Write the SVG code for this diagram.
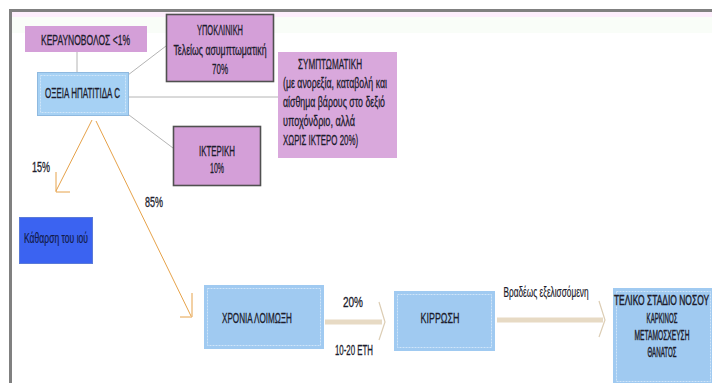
<svg xmlns="http://www.w3.org/2000/svg" width="712" height="383" viewBox="0 0 712 383">
<defs>
<style>
text{font-family:"Liberation Sans Narrow","Liberation Sans",Arial,sans-serif;fill:#1c1c2c;stroke:#1c1c2c;stroke-width:0.3;font-size:14px}
.c{text-anchor:middle}
.orchid{fill:#d49fd8}
.dk{stroke:#505050;stroke-width:1.6}
.lb{fill:#a6d1f4;stroke:#8fb9df;stroke-width:1}
.inner{fill:none;stroke:#cfe5f9;stroke-width:1;stroke-dasharray:2 1}
.gl{stroke:#b4b4b4;stroke-width:1;fill:none}
.or{stroke:#e6a24a;stroke-width:1;fill:none}
.bg{stroke:#e7dac4;stroke-width:5;fill:none}
.bh{stroke:#dccdb4;stroke-width:1.2;fill:none}
.sq text{stroke-width:0.45}
</style>
</defs>
<rect width="712" height="383" fill="#ffffff"/>
<rect x="12" y="12" width="700" height="5" fill="#fdeefc"/>
<rect x="12" y="17" width="700" height="16" fill="#f9fdf8"/>
<rect x="9" y="9" width="703" height="3" fill="#808080"/>
<rect x="9" y="9" width="3" height="374" fill="#808080"/>

<g id="connectors">
<line class="gl" x1="77" y1="52" x2="77" y2="72"/>
<line class="gl" x1="128" y1="75" x2="166" y2="46"/>
<line class="gl" x1="128" y1="97" x2="278" y2="97"/>
<line class="gl" x1="129" y1="115" x2="173" y2="148"/>
<line class="or" x1="92" y1="120" x2="56" y2="191"/>
<polyline class="or" points="56,172 56,192 70,192"/>
<line class="or" x1="96" y1="121" x2="191" y2="316"/>
<polyline class="or" points="192,293 192,317 180,317"/>
<line class="bg" x1="325" y1="322" x2="382" y2="322"/>
<polyline class="bh" points="379,302 385,322 379,340"/>
<line class="bg" x1="497" y1="320" x2="603" y2="320"/>
<polyline class="bh" points="599,301 605,320 599,337"/>
<text x="353" y="307" class="c" font-size="15" textLength="20" lengthAdjust="spacingAndGlyphs">20%</text>
<text x="354" y="355" class="c" font-size="13" textLength="38" lengthAdjust="spacingAndGlyphs">10-20 ΕΤΗ</text>
<g transform="translate(546,297) scale(0.65,1)"><text x="0" y="0" class="c" font-size="13" textLength="131" lengthAdjust="spacingAndGlyphs" style="stroke-width:0.2">Βραδέως εξελισσόμενη</text></g>
<text x="41" y="172" class="c" font-size="15" textLength="18" lengthAdjust="spacingAndGlyphs">15%</text>
<text x="154" y="207" class="c" font-size="15" textLength="18" lengthAdjust="spacingAndGlyphs">85%</text>
</g>

<g id="keravnovolos">
<rect x="25" y="26" width="122" height="26" class="orchid"/>
<text x="85.5" y="45" class="c" textLength="89" lengthAdjust="spacingAndGlyphs">ΚΕΡΑΥΝΟΒΟΛΟΣ  &lt;1%</text>
</g>

<g id="oxeia">
<rect x="37.5" y="72.5" width="91" height="43" class="lb"/>
<rect x="40.5" y="75.5" width="85" height="37" class="inner"/>
<text x="82.5" y="98" class="c" textLength="75" lengthAdjust="spacingAndGlyphs">ΟΞΕΙΑ ΗΠΑΤΙΤΙΔΑ C</text>
</g>

<g id="ypoklinikh">
<rect x="166.5" y="14.5" width="107" height="67" class="orchid dk"/>
<text x="220" y="35" class="c" textLength="46" lengthAdjust="spacingAndGlyphs">ΥΠΟΚΛΙΝΙΚΗ</text>
<text x="220" y="55" class="c" textLength="93" lengthAdjust="spacingAndGlyphs">Τελείως ασυμπτωματική</text>
<text x="220" y="74" class="c" textLength="16" lengthAdjust="spacingAndGlyphs">70%</text>
</g>

<g id="symptomatikh">
<rect x="278" y="52" width="119" height="106" fill="#d9a8dc"/>
<text x="330" y="69" class="c" textLength="64" lengthAdjust="spacingAndGlyphs">ΣΥΜΠΤΩΜΑΤΙΚΗ</text>
<text x="283" y="88" textLength="104" lengthAdjust="spacingAndGlyphs">(με ανορεξία, καταβολή και</text>
<text x="283" y="107" textLength="102" lengthAdjust="spacingAndGlyphs">αίσθημα βάρους στο δεξιό</text>
<text x="283" y="126" textLength="72" lengthAdjust="spacingAndGlyphs">υποχόνδριο, αλλά</text>
<text x="283" y="145" textLength="75" lengthAdjust="spacingAndGlyphs">ΧΩΡΙΣ ΙΚΤΕΡΟ 20%)</text>
</g>

<g id="ikterikh">
<rect x="173.5" y="126.5" width="87" height="59" class="orchid dk"/>
<text x="217" y="156" class="c" textLength="36" lengthAdjust="spacingAndGlyphs">ΙΚΤΕΡΙΚΗ</text>
<text x="217" y="173" class="c" textLength="14" lengthAdjust="spacingAndGlyphs">10%</text>
</g>

<g id="katharsh">
<rect x="19.5" y="217.5" width="73" height="46" fill="#3b63f1" stroke="#5a7ad8" stroke-width="1"/>
<text x="56" y="243" class="c" font-size="12" textLength="64" lengthAdjust="spacingAndGlyphs" style="fill:#121a48;stroke:#121a48;stroke-width:0.2">Κάθαρση του ιού</text>
</g>

<g id="chronia">
<rect x="204" y="285" width="120" height="64" fill="#a0caf1"/>
<rect x="207.5" y="288.5" width="113" height="57" class="inner"/>
<text x="257" y="323" class="c" textLength="70" lengthAdjust="spacingAndGlyphs">ΧΡΟΝΙΑ ΛΟΙΜΩΞΗ</text>
</g>

<g id="kirrwsh">
<rect x="394" y="291" width="101" height="60" fill="#a0caf1"/>
<rect x="397.5" y="294.5" width="94" height="53" class="inner"/>
<text x="440" y="323" class="c" textLength="39" lengthAdjust="spacingAndGlyphs">ΚΙΡΡΩΣΗ</text>
</g>

<g id="teliko">
<rect x="613" y="288" width="99" height="95" fill="#a0caf1"/>
<rect x="616.5" y="291.5" width="94" height="90" class="inner"/>
<g class="sq" transform="translate(661.5,305) scale(0.55,1)"><text x="0" y="0" class="c" textLength="173" lengthAdjust="spacingAndGlyphs">ΤΕΛΙΚΟ ΣΤΑΔΙΟ ΝΟΣΟΥ</text></g>
<g class="sq" transform="translate(662,323) scale(0.55,1)"><text x="0" y="0" class="c" textLength="56" lengthAdjust="spacingAndGlyphs">ΚΑΡΚΙΝΟΣ</text></g>
<g class="sq" transform="translate(662,340) scale(0.55,1)"><text x="0" y="0" class="c" textLength="100" lengthAdjust="spacingAndGlyphs">ΜΕΤΑΜΟΣΧΕΥΣΗ</text></g>
<g class="sq" transform="translate(662,357) scale(0.55,1)"><text x="0" y="0" class="c" textLength="53" lengthAdjust="spacingAndGlyphs">ΘΑΝΑΤΟΣ</text></g>
</g>
</svg>
